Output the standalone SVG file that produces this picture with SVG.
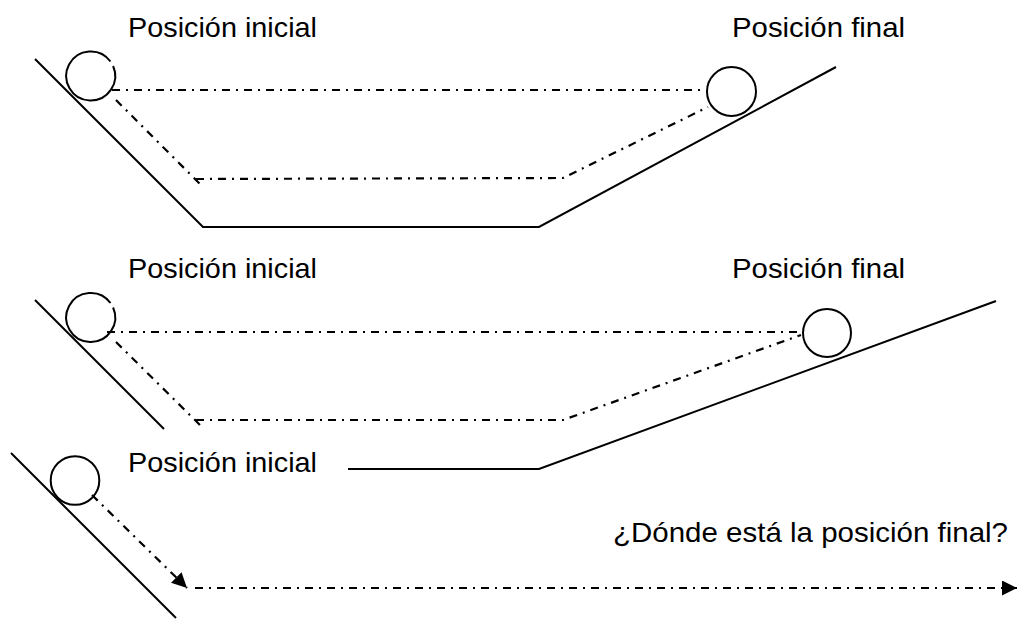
<svg xmlns="http://www.w3.org/2000/svg" width="1019" height="619" viewBox="0 0 1019 619">
<style>
.t{font-family:"Liberation Sans",Arial,sans-serif;font-size:28px;fill:#000}
.s{fill:none;stroke:#000;stroke-width:2}
.d{fill:none;stroke:#000;stroke-width:2.2;stroke-dasharray:8 6 2 6}
</style>
<defs>
<marker id="ah" markerUnits="userSpaceOnUse" markerWidth="16" markerHeight="16" refX="15" refY="7.5" orient="auto">
<path d="M0,0 L15,7.5 L0,15 z" fill="#000"/>
</marker>
</defs>
<rect width="1019" height="619" fill="#fff"/>

<g id="scene1">
<text class="t" x="128" y="37" textLength="189" lengthAdjust="spacingAndGlyphs">Posición inicial</text>
<text class="t" x="732" y="37" textLength="173" lengthAdjust="spacingAndGlyphs">Posición final</text>
<polyline class="s" points="35,59 203,227 539,227 836,67"/>
<path class="s" d="M113.1,66 A24.5,24.5 0 1 1 110.5,61.5"/>
<circle class="s" cx="731.5" cy="91.5" r="24.5"/>
<g id="paths1">
<line class="d" x1="112" y1="90" x2="705" y2="90"/>
<line class="d" x1="116" y1="100" x2="202" y2="186"/>
<polyline class="d" points="196,179 563,178 708,107"/>
</g>
</g>

<g id="scene2">
<text class="t" x="128" y="278" textLength="189" lengthAdjust="spacingAndGlyphs">Posición inicial</text>
<text class="t" x="732" y="278" textLength="173" lengthAdjust="spacingAndGlyphs">Posición final</text>
<line class="s" x1="35" y1="300" x2="164" y2="429"/>
<polyline class="s" points="348,469 539,469 996,301"/>
<path class="s" d="M113.1,307.5 A24.5,24.5 0 1 1 110.5,303"/>
<circle class="s" cx="827" cy="333" r="24"/>
<g id="paths2">
<line class="d" x1="107" y1="332" x2="803" y2="332"/>
<line class="d" x1="116" y1="342" x2="202" y2="427"/>
<polyline class="d" points="196,420 563,420 801,335"/>
</g>
</g>

<g id="scene3">
<text class="t" x="128" y="472" textLength="189" lengthAdjust="spacingAndGlyphs">Posición inicial</text>
<text class="t" x="1008" y="542" text-anchor="end" textLength="395" lengthAdjust="spacingAndGlyphs">¿Dónde está la posición final?</text>
<line class="s" x1="11" y1="453" x2="176" y2="618"/>
<circle class="s" cx="75" cy="480.5" r="24.3"/>
<g id="connectors">
<line class="d" x1="92" y1="495" x2="187" y2="588" marker-end="url(#ah)"/>
<line class="d" x1="195" y1="588" x2="1017" y2="588" marker-end="url(#ah)"/>
</g>
</g>
</svg>
